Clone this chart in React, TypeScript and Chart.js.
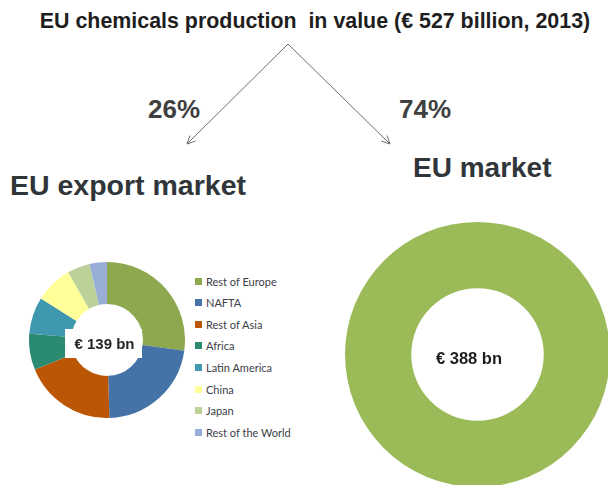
import React, { useEffect, useRef } from "react";
import { Chart, registerables } from "chart.js";

Chart.register(...registerables);

// ---- data ----
const exportRegions = [
  "Rest of Europe",
  "NAFTA",
  "Rest of Asia",
  "Africa",
  "Latin America",
  "China",
  "Japan",
  "Rest of the World",
];
const exportShares = [27.2, 22.3, 19.3, 7.5, 7.6, 7.8, 4.7, 3.6];
const exportColors = [
  "#8EA84F",
  "#4573A7",
  "#BB5604",
  "#2B8A72",
  "#3F98AE",
  "#FFFF99",
  "#BCD197",
  "#99AED6",
];
const euLabels = ["EU market"];
const euValues = [388];
const euColors = ["#9BBB59"];

const titleText = "EU chemicals production  in value (€ 527 billion, 2013)";
const splitLabels = ["26%", "74%"];
const marketTitles = ["EU export market", "EU market"];
const exportTotalLabel = "€ 139 bn";
const euTotalLabel = "€ 388 bn";

type CenterOpt = {
  text: string;
  font: string;
  color: string;
  dx: number;
  dy: number;
  box?: { dx: number; dy: number; w: number; h: number };
};

function Donut(props: {
  labels: string[];
  values: number[];
  colors: string[];
  cutout: string;
  size: number;
  left: number;
  top: number;
  center: CenterOpt;
}) {
  const ref = useRef<HTMLCanvasElement>(null);
  useEffect(() => {
    const { center } = props;
    const centerPlugin = {
      id: "centerText",
      afterDatasetsDraw(chart: any) {
        const ctx = chart.ctx;
        const arc = chart.getDatasetMeta(0).data[0];
        const cx = arc.x;
        const cy = arc.y;
        ctx.save();
        if (center.box) {
          ctx.fillStyle = "#ffffff";
          ctx.fillRect(cx + center.box.dx, cy + center.box.dy, center.box.w, center.box.h);
        }
        ctx.font = center.font;
        ctx.fillStyle = center.color;
        ctx.textAlign = "center";
        ctx.textBaseline = "alphabetic";
        ctx.fillText(center.text, cx + center.dx, cy + center.dy);
        ctx.restore();
      },
    };
    const chart = new Chart(ref.current as HTMLCanvasElement, {
      type: "doughnut",
      data: {
        labels: props.labels,
        datasets: [
          {
            data: props.values,
            backgroundColor: props.colors,
            borderWidth: 0,
            hoverOffset: 0,
          },
        ],
      },
      options: {
        responsive: false,
        animation: false,
        cutout: props.cutout,
        events: [],
        plugins: { legend: { display: false }, tooltip: { enabled: false } },
      },
      plugins: [centerPlugin],
    } as any);
    return () => chart.destroy();
  }, []);
  return (
    <canvas
      ref={ref}
      width={props.size}
      height={props.size}
      style={{ position: "absolute", left: props.left, top: props.top, width: props.size, height: props.size }}
    />
  );
}

function arrowHead(x1: number, y1: number, x2: number, y2: number, len: number, ang: number) {
  const a = Math.atan2(y2 - y1, x2 - x1);
  const p1 = [x2 - len * Math.cos(a - ang), y2 - len * Math.sin(a - ang)];
  const p2 = [x2 - len * Math.cos(a + ang), y2 - len * Math.sin(a + ang)];
  return `M${p1[0]} ${p1[1]} L${x2} ${y2} L${p2[0]} ${p2[1]}`;
}

export default function App() {
  const apex = [288, 44];
  const tips = [
    [187, 144],
    [390, 144],
  ];
  const sans = "'Liberation Sans', Arial, sans-serif";
  return (
    <div
      style={{
        position: "fixed",
        left: 0,
        top: 0,
        width: 608,
        height: 485,
        overflow: "hidden",
        background: "#ffffff",
        fontFamily: sans,
      }}
    >
      <div
        style={{
          position: "absolute",
          left: 315,
          top: 11,
          transform: "translateX(-50%)",
          whiteSpace: "pre",
          fontSize: 21.4,
          lineHeight: "21px",
          fontWeight: 700,
          color: "#1e1e1e",
        }}
      >
        {titleText}
      </div>

      <svg width={608} height={485} style={{ position: "absolute", left: 0, top: 0 }}>
        {tips.map((t, i) => (
          <g key={i} stroke="#6e6e6e" strokeWidth={1} fill="none">
            <line x1={apex[0]} y1={apex[1]} x2={t[0]} y2={t[1]} />
            <path d={arrowHead(apex[0], apex[1], t[0], t[1], 9, 0.45)} />
          </g>
        ))}
      </svg>

      {splitLabels.map((s, i) => (
        <div
          key={s}
          style={{
            position: "absolute",
            left: i === 0 ? 148 : 399,
            top: 96,
            fontSize: 26,
            lineHeight: "26px",
            fontWeight: 700,
            color: "#404040",
            whiteSpace: "pre",
          }}
        >
          {s}
        </div>
      ))}

      {marketTitles.map((s, i) => (
        <div
          key={s}
          style={{
            position: "absolute",
            left: i === 0 ? 10 : 413,
            top: i === 0 ? 171 : 154,
            fontSize: i === 0 ? 28.5 : 28,
            lineHeight: "28px",
            fontWeight: 700,
            color: "#30353a",
            whiteSpace: "pre",
          }}
        >
          {s}
        </div>
      ))}

      <Donut
        labels={exportRegions}
        values={exportShares}
        colors={exportColors}
        cutout="46%"
        size={156}
        left={29}
        top={262}
        center={{
          text: exportTotalLabel,
          font: `bold 15px ${sans}`,
          color: "#262626",
          dx: -2.5,
          dy: 9,
          box: { dx: -42, dy: -11, w: 77, h: 29 },
        }}
      />

      {exportRegions.map((r, i) => (
        <div
          key={r}
          style={{
            position: "absolute",
            left: 195,
            top: 281 + i * 21.6 - 7,
            height: 14,
            display: "flex",
            alignItems: "center",
            whiteSpace: "pre",
            fontFamily: "Lato, sans-serif",
            fontSize: 11,
            color: "#3c4048",
          }}
        >
          <span style={{ display: "inline-block", width: 7, height: 7, background: exportColors[i], marginRight: 4 }} />
          <span>{r}</span>
        </div>
      ))}

      <Donut
        labels={euLabels}
        values={euValues}
        colors={euColors}
        cutout="50%"
        size={265}
        left={345}
        top={222}
        center={{
          text: euTotalLabel,
          font: `bold 16.5px ${sans}`,
          color: "#1e1e1e",
          dx: -8.5,
          dy: 9,
        }}
      />
    </div>
  );
}
